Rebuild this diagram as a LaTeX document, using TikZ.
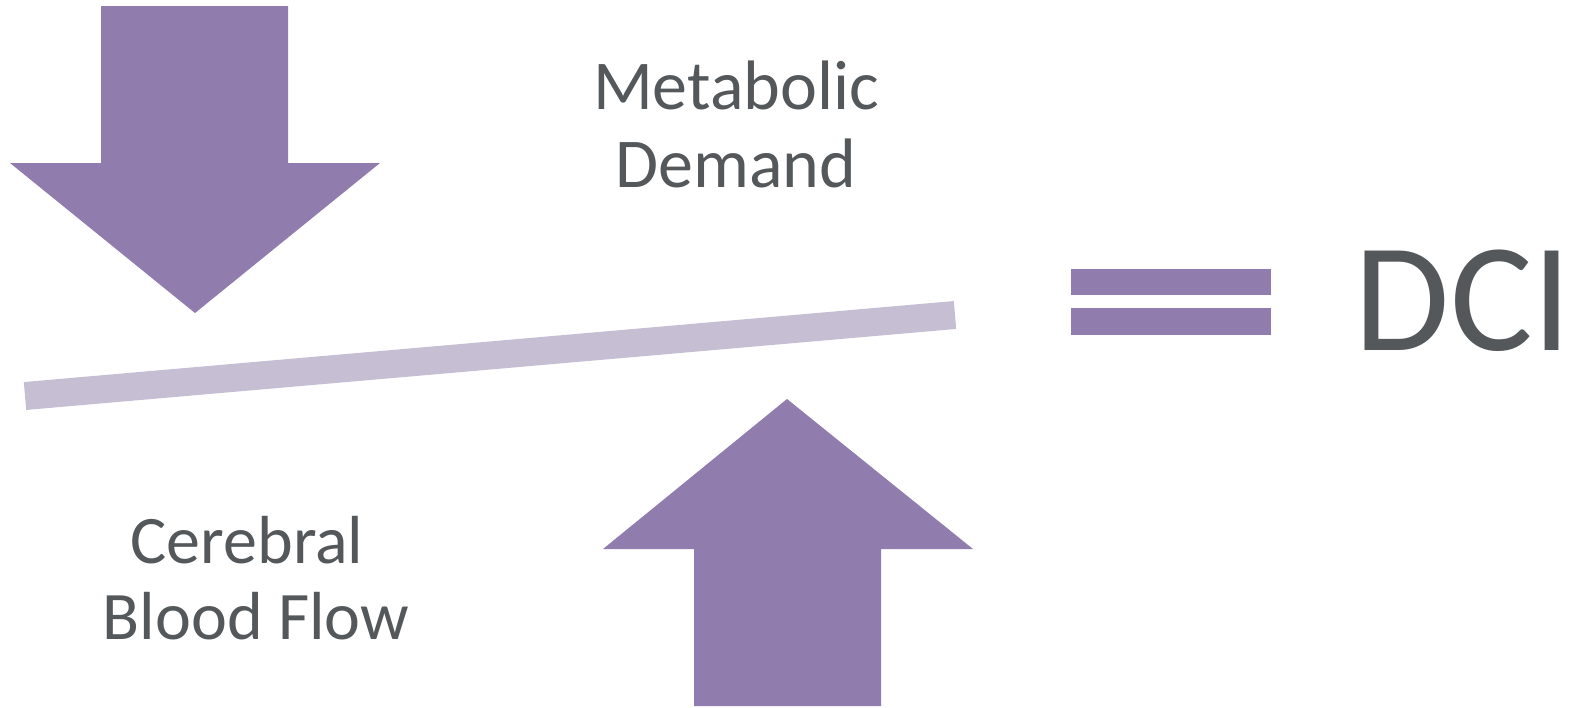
\documentclass[tikz,border=0pt]{standalone}
\usepackage{fontspec}
\setmainfont{Carlito}
\definecolor{arrowpurple}{HTML}{917DAD}
\definecolor{barlilac}{HTML}{C6BFD3}
\definecolor{textgray}{HTML}{54585A}
\begin{document}
\begin{tikzpicture}[x=1pt,y=-1pt,
  bigarrow/.style={fill=arrowpurple,draw=none},
  lbl/.style={text=textgray,inner sep=0pt,anchor=base,font=\fontsize{70}{78}\selectfont},
  lblsmall/.style={text=textgray,inner sep=0pt,anchor=base,font=\fontsize{68}{76}\selectfont},
  biglbl/.style={text=textgray,inner sep=0pt,anchor=base east,font=\fontsize{155}{190}\selectfont}]
\useasboundingbox (0,0) rectangle (1572,707);
% down arrow
\fill[bigarrow] (101,6) -- (288,6) -- (288,163) -- (380,163) -- (195,313) -- (10,163) -- (101,163) -- cycle;
% up arrow
\fill[bigarrow] (694,706) -- (881,706) -- (881,549) -- (973,549) -- (787,399) -- (603,549) -- (694,549) -- cycle;
% lever bar
\coordinate (barL) at (25,396);
\coordinate (barR) at (955,315);
\draw[barlilac,line width=28pt] (barL) -- (barR);
% equals sign
\fill[arrowpurple] (1071,269) rectangle (1271,295);
\fill[arrowpurple] (1071,308) rectangle (1271,335);
% labels
\node[lbl] (m1) at (736,109) {Metabolic};
\node[lbl] (m2) at (736,187) {Demand};
\node[lblsmall] (c1) at (247,563) {Cerebral};
\node[lblsmall] (c2) at (256,639) {Blood Flow};
\node[biglbl] (dci) at (1572,350) {DCI};
\end{tikzpicture}
\end{document}
